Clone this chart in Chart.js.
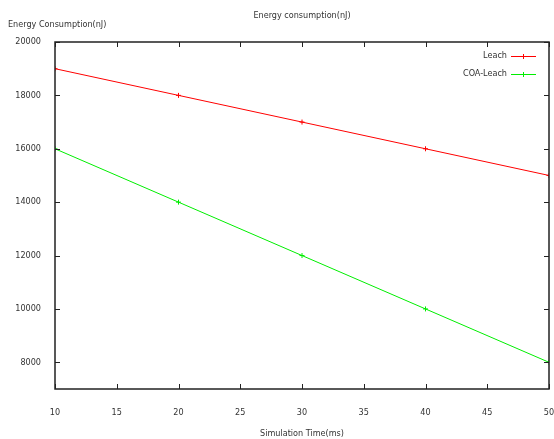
<!DOCTYPE html>
<html>
<head>
<meta charset="utf-8">
<script src="https://cdn.jsdelivr.net/npm/chart.js@4"></script>
<style>
  html, body { margin: 0; padding: 0; background: #fff; }
  #wrap { width: 554px; height: 439px; }
</style>
</head>
<body>
<div id="wrap"><canvas id="energyChart" width="554" height="439"></canvas></div>
<script>
const simTimes = [10, 20, 30, 40, 50];
const leachEnergy = [19000, 18000, 17000, 16000, 15000];
const coaLeachEnergy = [16000, 14000, 12000, 10000, 8000];
const xTickValues = [10, 15, 20, 25, 30, 35, 40, 45, 50];
const yTickValues = [8000, 10000, 12000, 14000, 16000, 18000, 20000];

const FONT = '"Liberation Sans Narrow", "DejaVu Sans Condensed", sans-serif';
const TEXT = '#333';

// frame, inward ticks, titles and legend in gnuplot style
const gnuplotLook = {
    id: 'gnuplotLook',
    afterDraw(chart) {
        const ctx = chart.ctx;
        const a = chart.chartArea;
        const xs = chart.scales.x, ys = chart.scales.y;
        ctx.save();
        ctx.strokeStyle = '#222';
        ctx.lineWidth = 1;
        xTickValues.forEach(v => {
            const px = Math.round(xs.getPixelForValue(v)) + 0.5;
            ctx.beginPath();
            ctx.moveTo(px, a.bottom); ctx.lineTo(px, a.bottom - 5);
            ctx.moveTo(px, a.top); ctx.lineTo(px, a.top + 5);
            ctx.stroke();
        });
        yTickValues.forEach(v => {
            const py = Math.round(ys.getPixelForValue(v)) + 0.5;
            ctx.beginPath();
            ctx.moveTo(a.left, py); ctx.lineTo(a.left + 5, py);
            ctx.moveTo(a.right, py); ctx.lineTo(a.right - 5, py);
            ctx.stroke();
        });
        ctx.lineWidth = 1.5;
        ctx.strokeRect(a.left, a.top, a.right - a.left, a.bottom - a.top);

        ctx.fillStyle = TEXT;
        ctx.font = '9px ' + FONT;
        ctx.textBaseline = 'middle';
        ctx.textAlign = 'center';
        ctx.fillText('Energy consumption(nJ)', 302, 16);
        ctx.fillText('Simulation Time(ms)', 302, 434);
        ctx.textAlign = 'left';
        ctx.fillText('Energy Consumption(nJ)', 8, 25);

        // legend
        chart.data.datasets.forEach((ds, i) => {
            const y = 56 + i * 18;
            ctx.textAlign = 'right';
            ctx.fillStyle = TEXT;
            ctx.fillText(ds.label, 507, y);
            ctx.strokeStyle = ds.borderColor;
            ctx.lineWidth = 1;
            ctx.beginPath();
            ctx.moveTo(511, y + 0.5); ctx.lineTo(536, y + 0.5);
            ctx.moveTo(523.5, y - 2); ctx.lineTo(523.5, y + 3);
            ctx.stroke();
        });
        ctx.restore();
    }
};

new Chart(document.getElementById('energyChart'), {
    type: 'line',
    data: {
        datasets: [{
            label: 'Leach',
            data: simTimes.map((t, i) => ({ x: t, y: leachEnergy[i] })),
            borderColor: '#ff0000',
            backgroundColor: '#ff0000',
            borderWidth: 1,
            pointStyle: 'cross',
            pointRadius: 2.5,
            pointBorderWidth: 1
        }, {
            label: 'COA-Leach',
            data: simTimes.map((t, i) => ({ x: t, y: coaLeachEnergy[i] })),
            borderColor: '#00ee00',
            backgroundColor: '#00ee00',
            borderWidth: 1,
            pointStyle: 'cross',
            pointRadius: 2.5,
            pointBorderWidth: 1
        }]
    },
    options: {
        responsive: false,
        animation: false,
        layout: { padding: { top: 42, right: 5, left: 0, bottom: 0 } },
        plugins: {
            legend: { display: false },
            title: { display: false },
            tooltip: { enabled: false }
        },
        scales: {
            x: {
                type: 'linear',
                min: 10,
                max: 50,
                afterBuildTicks: axis => { axis.ticks = xTickValues.map(v => ({ value: v })); },
                afterFit: axis => { axis.height = 50; axis.paddingRight = 0; axis.paddingLeft = 0; },
                grid: { display: false },
                border: { display: false },
                ticks: { padding: 10, maxRotation: 0, color: TEXT, font: { size: 9, family: FONT } }
            },
            y: {
                min: 7000,
                max: 20000,
                afterBuildTicks: axis => { axis.ticks = yTickValues.map(v => ({ value: v })); },
                afterFit: axis => { axis.width = 55; axis.paddingTop = 0; axis.paddingBottom = 0; },
                grid: { display: false },
                border: { display: false },
                ticks: {
                    padding: 6, color: TEXT, font: { size: 9, family: FONT },
                    callback: v => String(v)
                }
            }
        }
    },
    plugins: [gnuplotLook]
});
</script>
</body>
</html>
